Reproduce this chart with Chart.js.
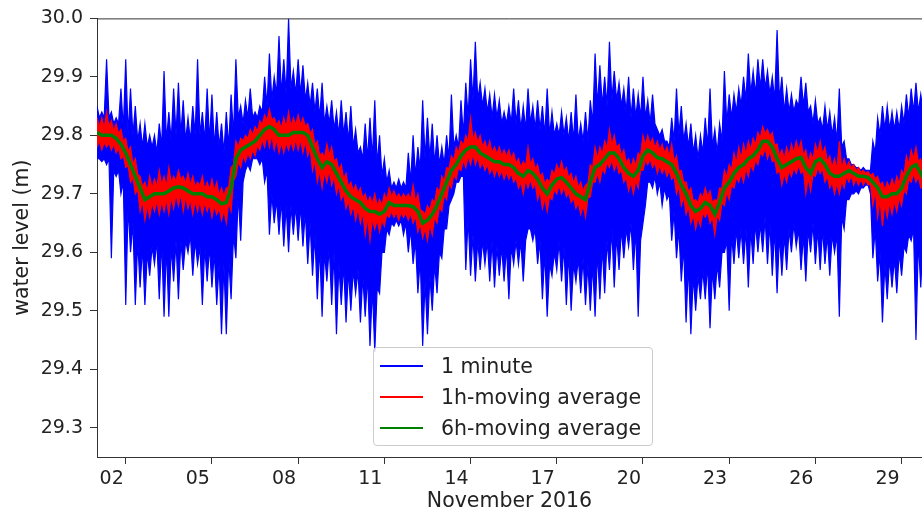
<!DOCTYPE html>
<html lang="en">
<head>
    <meta charset="UTF-8">
    <title>Water level - November 2016</title>
    <script src="https://cdn.jsdelivr.net/npm/chart.js@4.4.0/dist/chart.umd.min.js"></script>
    <style>
        * {
            margin: 0;
            padding: 0;
            box-sizing: border-box;
        }

        body {
            background: #ffffff;
            font-family: 'DejaVu Sans', sans-serif;
        }

        .chart-wrap {
            position: relative;
            width: 922px;
            height: 514px;
        }

        .legend {
            position: absolute;
            left: 373px;
            top: 347px;
            width: 280px;
            height: 99px;
            padding: 2px 0 0 6px;
            border: 1px solid #cccccc;
            border-radius: 4px;
            background: rgba(255, 255, 255, 0.8);
        }

        .legend-row {
            display: flex;
            align-items: center;
            height: 31px;
            font-size: 20.5px;
            color: #222222;
            white-space: nowrap;
        }

        .legend-swatch {
            width: 43px;
            height: 2px;
            margin-right: 18px;
        }
    </style>
</head>
<body>
    <div class="chart-wrap">
        <canvas id="levelChart" width="922" height="514"></canvas>
        <div class="legend" id="legend"></div>
    </div>

    <script>
        // samples every 4 hours, day-of-month units (1.0 = Nov 1 00:00)
        const startDay = 1;
        const stepDays = 1 / 6;

        const xTickDays = [2, 5, 8, 11, 14, 17, 20, 23, 26, 29];
        const xTickLabels = ['02', '05', '08', '11', '14', '17', '20', '23', '26', '29'];
        const yTickValues = [29.3, 29.4, 29.5, 29.6, 29.7, 29.8, 29.9, 30.0];

        // 1 minute series: spike tips above / below the band
        const minuteHigh = [
            29.85, 29.84, 29.93, 29.84, 29.83, 29.88, 29.93, 29.88, 29.85, 29.82, 29.82, 29.80, 29.80, 29.82, 29.91,
            29.84, 29.88, 29.89, 29.86, 29.83, 29.85, 29.93, 29.84, 29.88, 29.87, 29.84, 29.82, 29.84, 29.87, 29.93,
            29.85, 29.86, 29.88, 29.84, 29.85, 29.90, 29.94, 29.90, 29.97, 29.93, 30.00, 29.91, 29.93, 29.92, 29.89,
            29.89, 29.88, 29.89, 29.85, 29.86, 29.84, 29.86, 29.84, 29.85, 29.81, 29.78, 29.82, 29.83, 29.86,
            29.80, 29.76, 29.74, 29.72, 29.725, 29.72, 29.77, 29.80, 29.78, 29.86, 29.83, 29.82, 29.80, 29.78, 29.80,
            29.87, 29.80, 29.86, 29.89, 29.93, 29.96, 29.89, 29.88, 29.87, 29.87, 29.86, 29.84, 29.85, 29.88,
            29.86, 29.85, 29.88, 29.85, 29.86, 29.85, 29.88, 29.84, 29.82, 29.84, 29.83, 29.84, 29.87, 29.82, 29.84,
            29.86, 29.94, 29.92, 29.90, 29.96, 29.91, 29.89, 29.88, 29.90, 29.88, 29.87, 29.90, 29.86, 29.87,
            29.81, 29.81, 29.79, 29.83, 29.88, 29.85, 29.82, 29.82, 29.80, 29.80, 29.83, 29.88, 29.81, 29.82, 29.91,
            29.87, 29.87, 29.88, 29.90, 29.94, 29.91, 29.93, 29.93, 29.91, 29.90, 29.98, 29.90, 29.88, 29.87, 29.86,
            29.90, 29.89, 29.85, 29.86, 29.83, 29.85, 29.84, 29.83, 29.88, 29.79, 29.76, 29.75, 29.745, 29.745,
            29.74, 29.79, 29.83, 29.85, 29.85, 29.84, 29.84, 29.85, 29.87, 29.88, 29.89, 29.87, 29.85
        ];
        const minuteLow = [
            29.76, 29.755, 29.75, 29.59, 29.73, 29.70, 29.51, 29.60, 29.51, 29.54, 29.51, 29.56, 29.58, 29.52, 29.49,
            29.49, 29.55, 29.52, 29.57, 29.60, 29.56, 29.58, 29.51, 29.55, 29.54, 29.51, 29.46, 29.46, 29.52, 29.59,
            29.62, 29.74, 29.74, 29.76, 29.75, 29.72, 29.63, 29.65, 29.63, 29.61, 29.60, 29.63, 29.62, 29.61, 29.58,
            29.56, 29.52, 29.49, 29.55, 29.51, 29.46, 29.51, 29.48, 29.50, 29.53, 29.48, 29.49, 29.44, 29.43,
            29.53, 29.60, 29.63, 29.645, 29.645, 29.63, 29.60, 29.58, 29.53, 29.44, 29.46, 29.50, 29.53, 29.59, 29.64,
            29.69, 29.72, 29.73, 29.57, 29.56, 29.55, 29.57, 29.58, 29.55, 29.54, 29.56, 29.55, 29.52, 29.58,
            29.58, 29.55, 29.64, 29.62, 29.58, 29.52, 29.49, 29.56, 29.57, 29.55, 29.51, 29.50, 29.55, 29.53, 29.51,
            29.50, 29.49, 29.52, 29.53, 29.57, 29.54, 29.57, 29.59, 29.61, 29.57, 29.49, 29.65, 29.72, 29.71,
            29.70, 29.68, 29.69, 29.62, 29.59, 29.55, 29.48, 29.46, 29.50, 29.52, 29.52, 29.47, 29.52, 29.54, 29.60,
            29.50, 29.58, 29.59, 29.58, 29.54, 29.58, 29.60, 29.60, 29.58, 29.56, 29.53, 29.56, 29.57, 29.60, 29.61,
            29.57, 29.55, 29.60, 29.58, 29.57, 29.58, 29.56, 29.60, 29.49, 29.64, 29.69, 29.70, 29.70, 29.71,
            29.715, 29.59, 29.55, 29.48, 29.52, 29.54, 29.53, 29.56, 29.60, 29.62, 29.45, 29.54, 29.60
        ];
        // edges of the solid part of the 1 minute band, 2 h after each tip
        const minuteCoreHigh = [
            29.83, 29.83, 29.83, 29.82, 29.82, 29.81, 29.80, 29.80, 29.79, 29.78, 29.78, 29.78,
            29.77, 29.78, 29.79, 29.79, 29.80, 29.80, 29.79, 29.79, 29.80, 29.80, 29.79, 29.79,
            29.78, 29.78, 29.77, 29.78, 29.80, 29.83, 29.82, 29.83, 29.83, 29.83, 29.84, 29.85,
            29.86, 29.87, 29.87, 29.87, 29.88, 29.87, 29.87, 29.86, 29.85, 29.84, 29.83, 29.82,
            29.82, 29.81, 29.80, 29.80, 29.79, 29.78, 29.77, 29.76, 29.76, 29.76, 29.75, 29.73,
            29.72, 29.71, 29.71, 29.71, 29.71, 29.72, 29.73, 29.74, 29.76, 29.76, 29.75, 29.75,
            29.75, 29.76, 29.78, 29.78, 29.80, 29.83, 29.86, 29.86, 29.85, 29.84, 29.83, 29.83,
            29.82, 29.82, 29.82, 29.82, 29.81, 29.81, 29.82, 29.81, 29.81, 29.80, 29.80, 29.80,
            29.80, 29.80, 29.79, 29.79, 29.79, 29.79, 29.79, 29.82, 29.85, 29.85, 29.85, 29.86,
            29.86, 29.85, 29.84, 29.83, 29.83, 29.83, 29.83, 29.82, 29.82, 29.80, 29.79, 29.78,
            29.79, 29.80, 29.79, 29.78, 29.77, 29.76, 29.77, 29.78, 29.78, 29.77, 29.79, 29.82,
            29.83, 29.84, 29.85, 29.86, 29.87, 29.87, 29.88, 29.88, 29.87, 29.86, 29.86, 29.84,
            29.84, 29.84, 29.85, 29.85, 29.84, 29.82, 29.82, 29.81, 29.81, 29.80, 29.79, 29.78,
            29.76, 29.75, 29.745, 29.74, 29.74, 29.74, 29.77, 29.80, 29.81, 29.81, 29.81, 29.81,
            29.82, 29.83, 29.84, 29.84, 29.84, 29.83
        ];
        const minuteCoreLow = [
            29.76, 29.76, 29.76, 29.74, 29.74, 29.72, 29.68, 29.65, 29.62, 29.61, 29.60, 29.61,
            29.62, 29.62, 29.61, 29.61, 29.62, 29.62, 29.62, 29.63, 29.62, 29.61, 29.61, 29.61,
            29.60, 29.58, 29.58, 29.59, 29.63, 29.70, 29.72, 29.75, 29.76, 29.76, 29.76, 29.74,
            29.70, 29.69, 29.69, 29.68, 29.68, 29.68, 29.68, 29.67, 29.65, 29.63, 29.61, 29.60,
            29.61, 29.60, 29.58, 29.58, 29.57, 29.57, 29.57, 29.56, 29.56, 29.54, 29.54, 29.60,
            29.64, 29.65, 29.655, 29.655, 29.65, 29.64, 29.62, 29.59, 29.55, 29.56, 29.58, 29.60,
            29.64, 29.68, 29.70, 29.72, 29.73, 29.66, 29.63, 29.62, 29.62, 29.62, 29.62, 29.61,
            29.61, 29.61, 29.61, 29.62, 29.62, 29.62, 29.64, 29.64, 29.62, 29.60, 29.58, 29.60,
            29.62, 29.61, 29.60, 29.58, 29.59, 29.59, 29.58, 29.58, 29.60, 29.61, 29.62, 29.64,
            29.63, 29.64, 29.64, 29.65, 29.64, 29.62, 29.68, 29.72, 29.73, 29.72, 29.71, 29.70,
            29.67, 29.64, 29.61, 29.58, 29.56, 29.56, 29.57, 29.58, 29.57, 29.58, 29.60, 29.62,
            29.63, 29.64, 29.64, 29.64, 29.64, 29.65, 29.65, 29.66, 29.65, 29.64, 29.63, 29.63,
            29.64, 29.65, 29.64, 29.63, 29.64, 29.65, 29.64, 29.64, 29.63, 29.63, 29.63, 29.66,
            29.69, 29.70, 29.705, 29.71, 29.715, 29.70, 29.64, 29.60, 29.58, 29.59, 29.59, 29.60,
            29.61, 29.63, 29.64, 29.62, 29.63, 29.64
        ];

        // 1h moving average: spike tips above / below
        const hourHigh = [
            29.83, 29.83, 29.84, 29.825, 29.82, 29.81, 29.795, 29.78, 29.76, 29.73, 29.72, 29.73, 29.725, 29.74, 29.73,
            29.745, 29.73, 29.74, 29.73, 29.735, 29.73, 29.72, 29.73, 29.72, 29.725, 29.72, 29.71, 29.71, 29.745, 29.79,
            29.795, 29.80, 29.81, 29.815, 29.825, 29.835, 29.845, 29.83, 29.825, 29.83, 29.84, 29.83, 29.835, 29.83, 29.82,
            29.81, 29.79, 29.77, 29.785, 29.78, 29.76, 29.75, 29.735, 29.72, 29.715, 29.71, 29.70, 29.695, 29.70,
            29.69, 29.70, 29.71, 29.705, 29.70, 29.70, 29.70, 29.715, 29.70, 29.67, 29.68, 29.69, 29.71, 29.73, 29.745,
            29.765, 29.78, 29.79, 29.80, 29.83, 29.805, 29.80, 29.79, 29.79, 29.78, 29.78, 29.775, 29.775, 29.77,
            29.76, 29.755, 29.78, 29.76, 29.75, 29.735, 29.725, 29.74, 29.75, 29.755, 29.745, 29.735, 29.73, 29.72, 29.715,
            29.75, 29.78, 29.78, 29.79, 29.81, 29.80, 29.785, 29.775, 29.76, 29.76, 29.77, 29.80, 29.80, 29.795,
            29.79, 29.785, 29.78, 29.785, 29.765, 29.74, 29.72, 29.71, 29.69, 29.70, 29.71, 29.705, 29.69, 29.71, 29.74,
            29.75, 29.77, 29.78, 29.785, 29.79, 29.795, 29.805, 29.815, 29.81, 29.805, 29.785, 29.775, 29.78, 29.785, 29.79,
            29.79, 29.775, 29.77, 29.785, 29.79, 29.78, 29.765, 29.76, 29.79, 29.76, 29.755, 29.75, 29.745, 29.74,
            29.738, 29.735, 29.73, 29.72, 29.72, 29.725, 29.73, 29.74, 29.765, 29.775, 29.78, 29.76, 29.75
        ];
        const hourLow = [
            29.78, 29.775, 29.78, 29.775, 29.77, 29.76, 29.745, 29.72, 29.70, 29.67, 29.655, 29.66, 29.67, 29.665, 29.67,
            29.665, 29.675, 29.68, 29.67, 29.675, 29.665, 29.67, 29.665, 29.67, 29.66, 29.665, 29.655, 29.65, 29.67, 29.73,
            29.745, 29.755, 29.76, 29.765, 29.775, 29.78, 29.78, 29.775, 29.77, 29.77, 29.775, 29.775, 29.775, 29.77, 29.765,
            29.74, 29.72, 29.71, 29.72, 29.715, 29.70, 29.69, 29.675, 29.665, 29.655, 29.65, 29.63, 29.62, 29.64,
            29.635, 29.645, 29.66, 29.66, 29.655, 29.66, 29.655, 29.65, 29.635, 29.625, 29.62, 29.63, 29.65, 29.67, 29.69,
            29.71, 29.725, 29.74, 29.745, 29.75, 29.75, 29.745, 29.74, 29.735, 29.73, 29.73, 29.725, 29.725, 29.72,
            29.71, 29.70, 29.71, 29.71, 29.69, 29.675, 29.67, 29.69, 29.70, 29.70, 29.695, 29.685, 29.675, 29.665, 29.66,
            29.695, 29.72, 29.72, 29.735, 29.745, 29.74, 29.735, 29.72, 29.705, 29.70, 29.71, 29.74, 29.75, 29.745,
            29.735, 29.735, 29.73, 29.725, 29.70, 29.68, 29.665, 29.65, 29.64, 29.645, 29.66, 29.65, 29.63, 29.655, 29.68,
            29.69, 29.71, 29.72, 29.72, 29.73, 29.74, 29.75, 29.765, 29.76, 29.755, 29.735, 29.715, 29.72, 29.73, 29.735,
            29.735, 29.70, 29.705, 29.73, 29.735, 29.72, 29.71, 29.70, 29.70, 29.71, 29.72, 29.715, 29.715, 29.715,
            29.715, 29.68, 29.66, 29.645, 29.66, 29.665, 29.67, 29.68, 29.70, 29.72, 29.72, 29.71, 29.70
        ];
        // edges of the solid part of the red band, 2 h after each tip
        const hourCoreHigh = [
            29.815, 29.812, 29.815, 29.808, 29.803, 29.79, 29.772, 29.75, 29.733, 29.712, 29.705, 29.71,
            29.712, 29.715, 29.713, 29.72, 29.722, 29.725, 29.718, 29.715, 29.712, 29.714, 29.708, 29.707,
            29.705, 29.698, 29.697, 29.712, 29.75, 29.78, 29.79, 29.795, 29.80, 29.807, 29.818, 29.825,
            29.826, 29.818, 29.812, 29.814, 29.815, 29.818, 29.817, 29.815, 29.803, 29.783, 29.765, 29.762,
            29.766, 29.755, 29.74, 29.725, 29.712, 29.705, 29.70, 29.692, 29.685, 29.683, 29.68, 29.68,
            29.69, 29.695, 29.693, 29.692, 29.693, 29.69, 29.687, 29.673, 29.665, 29.672, 29.685, 29.703,
            29.722, 29.743, 29.757, 29.77, 29.783, 29.79, 29.793, 29.788, 29.78, 29.775, 29.77, 29.768,
            29.765, 29.763, 29.76, 29.752, 29.745, 29.748, 29.75, 29.743, 29.73, 29.717, 29.72, 29.733,
            29.739, 29.737, 29.727, 29.718, 29.71, 29.705, 29.718, 29.745, 29.76, 29.768, 29.778, 29.783,
            29.778, 29.765, 29.753, 29.745, 29.748, 29.765, 29.783, 29.785, 29.779, 29.774, 29.77, 29.765,
            29.755, 29.738, 29.72, 29.703, 29.688, 29.685, 29.693, 29.695, 29.685, 29.688, 29.71, 29.728,
            29.74, 29.753, 29.76, 29.768, 29.775, 29.783, 29.795, 29.803, 29.798, 29.783, 29.765, 29.76,
            29.765, 29.77, 29.774, 29.766, 29.753, 29.758, 29.77, 29.768, 29.755, 29.745, 29.742, 29.742,
            29.745, 29.744, 29.739, 29.736, 29.735, 29.731, 29.725, 29.715, 29.707, 29.71, 29.712, 29.717,
            29.732, 29.75, 29.76, 29.755, 29.74, 29.73
        ];
        const hourCoreLow = [
            29.79, 29.788, 29.787, 29.785, 29.778, 29.765, 29.748, 29.728, 29.708, 29.688, 29.68, 29.685,
            29.688, 29.687, 29.69, 29.695, 29.699, 29.70, 29.695, 29.69, 29.688, 29.687, 29.685, 29.683,
            29.68, 29.675, 29.672, 29.685, 29.722, 29.755, 29.765, 29.77, 29.775, 29.783, 29.793, 29.80,
            29.80, 29.793, 29.788, 29.788, 29.79, 29.793, 29.793, 29.79, 29.778, 29.757, 29.74, 29.738,
            29.74, 29.73, 29.715, 29.70, 29.688, 29.68, 29.675, 29.668, 29.66, 29.658, 29.655, 29.655,
            29.665, 29.67, 29.668, 29.668, 29.667, 29.667, 29.662, 29.648, 29.64, 29.648, 29.66, 29.678,
            29.698, 29.718, 29.733, 29.745, 29.758, 29.765, 29.768, 29.763, 29.755, 29.75, 29.745, 29.743,
            29.74, 29.738, 29.735, 29.728, 29.72, 29.723, 29.725, 29.718, 29.705, 29.693, 29.695, 29.708,
            29.714, 29.712, 29.703, 29.693, 29.685, 29.68, 29.693, 29.72, 29.735, 29.743, 29.753, 29.758,
            29.753, 29.74, 29.728, 29.72, 29.723, 29.74, 29.758, 29.76, 29.754, 29.749, 29.745, 29.74,
            29.73, 29.713, 29.695, 29.678, 29.663, 29.66, 29.668, 29.67, 29.66, 29.663, 29.685, 29.703,
            29.715, 29.728, 29.735, 29.743, 29.75, 29.758, 29.77, 29.778, 29.773, 29.758, 29.74, 29.735,
            29.74, 29.745, 29.749, 29.741, 29.728, 29.733, 29.745, 29.743, 29.73, 29.72, 29.718, 29.722,
            29.73, 29.731, 29.726, 29.724, 29.723, 29.717, 29.705, 29.69, 29.683, 29.685, 29.688, 29.693,
            29.708, 29.725, 29.735, 29.73, 29.715, 29.71
        ];

        // 6h moving average
        const sixHour = [
            29.805, 29.80, 29.80, 29.80, 29.795, 29.785, 29.77, 29.75, 29.73, 29.71, 29.69, 29.695, 29.70, 29.70, 29.70,
            29.705, 29.71, 29.712, 29.71, 29.705, 29.70, 29.70, 29.70, 29.695, 29.695, 29.69, 29.683, 29.685, 29.71, 29.76,
            29.775, 29.78, 29.785, 29.79, 29.80, 29.81, 29.815, 29.81, 29.80, 29.80, 29.80, 29.805, 29.805, 29.805, 29.80,
            29.78, 29.76, 29.745, 29.755, 29.75, 29.735, 29.72, 29.705, 29.695, 29.69, 29.685, 29.675, 29.67, 29.67,
            29.665, 29.67, 29.685, 29.68, 29.68, 29.68, 29.68, 29.678, 29.67, 29.65, 29.655, 29.665, 29.68, 29.70, 29.72,
            29.74, 29.75, 29.765, 29.775, 29.78, 29.78, 29.77, 29.765, 29.76, 29.755, 29.755, 29.75, 29.75, 29.745,
            29.735, 29.73, 29.74, 29.735, 29.725, 29.71, 29.70, 29.715, 29.725, 29.728, 29.72, 29.71, 29.70, 29.695, 29.69,
            29.72, 29.745, 29.75, 29.76, 29.77, 29.77, 29.76, 29.745, 29.735, 29.73, 29.74, 29.765, 29.775, 29.77,
            29.762, 29.76, 29.755, 29.75, 29.735, 29.715, 29.70, 29.68, 29.67, 29.675, 29.685, 29.68, 29.665, 29.685, 29.71,
            29.72, 29.735, 29.745, 29.75, 29.76, 29.765, 29.775, 29.79, 29.79, 29.78, 29.76, 29.745, 29.75, 29.755, 29.76,
            29.762, 29.745, 29.735, 29.755, 29.76, 29.75, 29.735, 29.73, 29.73, 29.735, 29.74, 29.735, 29.73, 29.73,
            29.728, 29.72, 29.71, 29.695, 29.695, 29.70, 29.70, 29.71, 29.73, 29.745, 29.75, 29.735, 29.72
        ];

        const toPoints = (values) => values.map((v, i) => ({ x: startDay + i * stepDays, y: v }));

        // tip at each sample, band edge half a step later
        const zigzag = (tips, cores) => {
            const points = [];
            tips.forEach((v, i) => {
                const t = startDay + i * stepDays;
                points.push({ x: t, y: v });
                points.push({ x: t + stepDays / 2, y: cores[i] });
            });
            return points;
        };

        const fontFamily = "'DejaVu Sans', sans-serif";
        const axisColor = '#333333';
        const textColor = '#222222';

        const topSpine = {
            id: 'topSpine',
            afterDraw(chart) {
                const { ctx, chartArea } = chart;
                ctx.save();
                ctx.strokeStyle = axisColor;
                ctx.lineWidth = 1;
                ctx.beginPath();
                ctx.moveTo(chartArea.left, chartArea.top + 0.5);
                ctx.lineTo(chartArea.right, chartArea.top + 0.5);
                ctx.stroke();
                ctx.restore();
            }
        };

        const chart = new Chart(document.getElementById('levelChart'), {
            type: 'line',
            data: {
                datasets: [
                    {
                        label: '1 minute',
                        data: zigzag(minuteHigh, minuteCoreHigh),
                        borderColor: '#0000ff',
                        backgroundColor: '#0000ff',
                        borderWidth: 1.2,
                        fill: '+1',
                        order: 3
                    },
                    {
                        label: '_minuteLow',
                        data: zigzag(minuteLow, minuteCoreLow),
                        borderColor: '#0000ff',
                        borderWidth: 1.2,
                        fill: false,
                        order: 3
                    },
                    {
                        label: '1h-moving average',
                        data: zigzag(hourHigh, hourCoreHigh),
                        borderColor: '#ff0000',
                        backgroundColor: '#ff0000',
                        borderWidth: 1.2,
                        fill: '+1',
                        order: 2
                    },
                    {
                        label: '_hourLow',
                        data: zigzag(hourLow, hourCoreLow),
                        borderColor: '#ff0000',
                        borderWidth: 1.2,
                        fill: false,
                        order: 2
                    },
                    {
                        label: '6h-moving average',
                        data: toPoints(sixHour),
                        borderColor: '#008000',
                        borderWidth: 3.5,
                        fill: false,
                        order: 1
                    }
                ]
            },
            options: {
                responsive: false,
                animation: false,
                events: [],
                layout: { padding: { top: 17, right: 0, bottom: 0, left: 0 } },
                elements: {
                    point: { radius: 0 },
                    line: { tension: 0 }
                },
                plugins: {
                    legend: { display: false },
                    tooltip: { enabled: false }
                },
                scales: {
                    x: {
                        type: 'linear',
                        min: 1,
                        max: 29.71,
                        afterFit: (scale) => { scale.height = 57; },
                        afterBuildTicks: (scale) => {
                            scale.ticks = xTickDays.map((v) => ({ value: v }));
                        },
                        ticks: {
                            callback: (value) => xTickLabels[xTickDays.indexOf(value)],
                            align: 'end',
                            labelOffset: -2,
                            padding: 4,
                            maxRotation: 0,
                            autoSkip: false,
                            color: textColor,
                            font: { family: fontFamily, size: 19 }
                        },
                        grid: {
                            drawOnChartArea: false,
                            tickLength: 7,
                            tickColor: axisColor
                        },
                        border: { display: true, color: axisColor, width: 1 },
                        title: {
                            display: true,
                            text: 'November 2016',
                            color: textColor,
                            font: { family: fontFamily, size: 20.5, lineHeight: 1 },
                            padding: { top: 0, bottom: 2 }
                        }
                    },
                    y: {
                        min: 29.25,
                        max: 30.0,
                        afterFit: (scale) => { scale.width = 97; },
                        afterBuildTicks: (scale) => {
                            scale.ticks = yTickValues.map((v) => ({ value: v }));
                        },
                        ticks: {
                            callback: (value) => value.toFixed(1),
                            padding: 7,
                            color: textColor,
                            font: { family: fontFamily, size: 19 }
                        },
                        grid: {
                            drawOnChartArea: false,
                            tickLength: 7,
                            tickColor: axisColor
                        },
                        border: { display: true, color: axisColor, width: 1 },
                        title: {
                            display: true,
                            text: 'water level (m)',
                            color: textColor,
                            font: { family: fontFamily, size: 20.5, lineHeight: 1 },
                            padding: { top: 12, bottom: 0 }
                        }
                    }
                }
            },
            plugins: [topSpine]
        });

        // legend box placed inside the plot, like the original figure
        const legendEl = document.getElementById('legend');
        chart.data.datasets
            .filter((ds) => !ds.label.startsWith('_'))
            .forEach((ds) => {
                const row = document.createElement('div');
                row.className = 'legend-row';
                const swatch = document.createElement('span');
                swatch.className = 'legend-swatch';
                swatch.style.background = ds.borderColor;
                const text = document.createElement('span');
                text.textContent = ds.label;
                row.appendChild(swatch);
                row.appendChild(text);
                legendEl.appendChild(row);
            });
    </script>
</body>
</html>
